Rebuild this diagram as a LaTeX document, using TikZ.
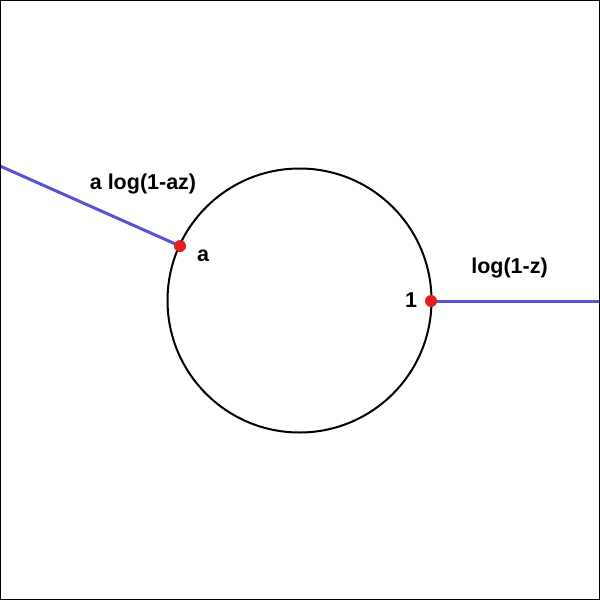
\documentclass[tikz,border=0pt]{standalone}
\usepackage{fontspec}
\setmainfont{Liberation Sans}
\definecolor{lineblue}{RGB}{85,85,210}
\definecolor{dotred}{RGB}{228,30,30}
\pgfdeclarelayer{bg}
\pgfsetlayers{bg,main}
\begin{document}
\begin{tikzpicture}[x=1pt,y=-1pt,
  lbl/.style={font=\fontsize{21.5}{25}\selectfont\bfseries, inner sep=0pt, text=black},
  cut/.style={draw=lineblue, line width=3pt},
  dot/.style={circle, fill=dotred, inner sep=0pt, minimum size=12pt}]
\useasboundingbox (0,0) rectangle (600,600);
\draw[line width=1.5pt] (0,0) rectangle (600,600);
\coordinate (c) at (299.5,300.5);
\draw[line width=2pt] (c) circle[radius=132];
\coordinate (w) at (0,166);
\coordinate (e) at (600,301);
\node[dot] (a) at (180,246) {};
\node[dot] (one) at (431,301) {};
\begin{pgfonlayer}{bg}
\draw[cut] (w) -- (a.center);
\draw[cut] (one.center) -- (e);
\end{pgfonlayer}
\node[lbl] (la) at (143,184) {a log(1-az)};
\node[lbl] (lz) at (509.5,268) {log(1-z)};
\node[lbl] (ta) at (203,256) {a};
\node[lbl] (t1) at (411,300) {1};
\end{tikzpicture}
\end{document}
